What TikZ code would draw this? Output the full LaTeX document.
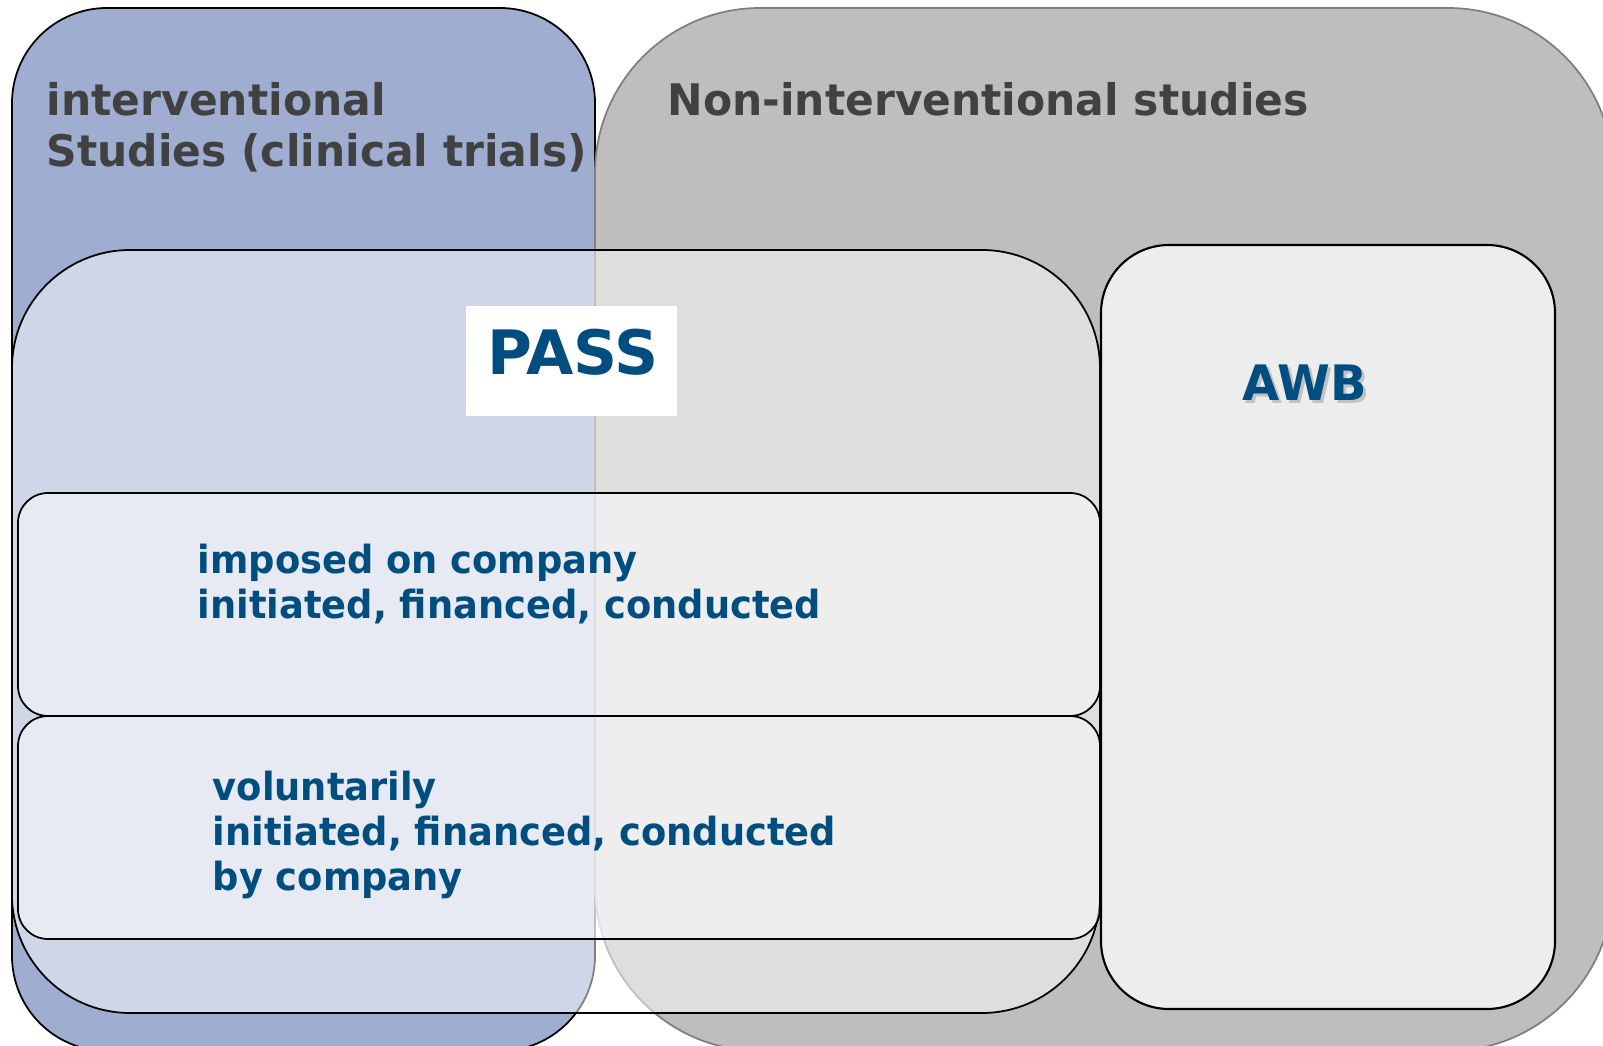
\documentclass[tikz,border=0pt]{standalone}
\usepackage{fontspec}
\setmainfont{DejaVu Sans}
\newfontfamily\headfam{DejaVu Sans}[FakeStretch=0.975]
\newfontfamily\bodyfam{DejaVu Sans}[FakeStretch=0.95]
\newfontfamily\awbfam{DejaVu Sans}[FakeStretch=0.98]
\definecolor{ivfill}{HTML}{9FADD1}
\definecolor{nifill}{HTML}{BEBEBE}
\definecolor{niline}{HTML}{7F7F7F}
\definecolor{awbfill}{HTML}{EDEDED}
\definecolor{titlegray}{HTML}{414141}
\definecolor{passblue}{HTML}{004D80}
\tikzset{
  pane/.style={line width=0.5pt},
  veil/.style={pane, draw=black, fill=white, fill opacity=0.5},
  heading/.style={anchor=base west, inner sep=0pt, text=titlegray,
    font=\headfam\fontsize{12.38pt}{14.5pt}\selectfont\bfseries},
  bodytext/.style={anchor=base west, inner sep=0pt, text=passblue,
    font=\bodyfam\fontsize{11.02pt}{12.8pt}\selectfont\bfseries},
  bigword/.style={anchor=base, inner sep=0pt, text=passblue}
}
\begin{document}
\begin{tikzpicture}[x=0.01cm, y=-0.01cm]
  \clip (0,0) rectangle (1603,1046);
  \fill[white] (0,0) rectangle (1603,1046);

  % the two study families
  \draw[pane, fill=ivfill, draw=black, rounded corners=0.95cm] (12,8) rectangle (595,1051);
  \draw[pane, fill=nifill, draw=niline, rounded corners=1.65cm] (595,8) rectangle (1613,1051);

  % PASS region spanning both families
  \draw[veil, rounded corners=1.18cm] (12,250) rectangle (1100,1013);
  \fill[white] (466,306) rectangle (677,416);

  % the two PASS categories
  \draw[veil, rounded corners=0.3cm] (18,493) rectangle (1100,716);
  \draw[veil, rounded corners=0.3cm] (18,716) rectangle (1100,939);

  % AWB region
  \draw[line width=0.6pt, fill=awbfill, draw=black, rounded corners=0.68cm] (1101,245) rectangle (1555,1009);

  % headings
  \node[heading] (iv1) at (46,116) {interventional};
  \node[heading] (iv2) at (46,167) {Studies (clinical trials)};
  \node[heading] (ni) at (667,116) {Non-interventional studies};

  % labels
  \node[bigword, font=\fontsize{17.4pt}{20pt}\selectfont\bfseries] (pass) at (573,375) {PASS};
  \node[bigword, text=black, opacity=0.18, font=\awbfam\fontsize{13.9pt}{16pt}\selectfont\bfseries] (awbshadow) at (1307.5,403.5) {AWB};
  \node[bigword, font=\awbfam\fontsize{13.9pt}{16pt}\selectfont\bfseries] (awb) at (1305,401) {AWB};

  \node[bodytext] (imp1) at (197,573) {imposed on company};
  \node[bodytext] (imp2) at (197,618) {initiated, financed, conducted};

  \node[bodytext] (vol1) at (212,800) {voluntarily};
  \node[bodytext] (vol2) at (212,845) {initiated, financed, conducted};
  \node[bodytext] (vol3) at (212,890) {by company};
\end{tikzpicture}
\end{document}
